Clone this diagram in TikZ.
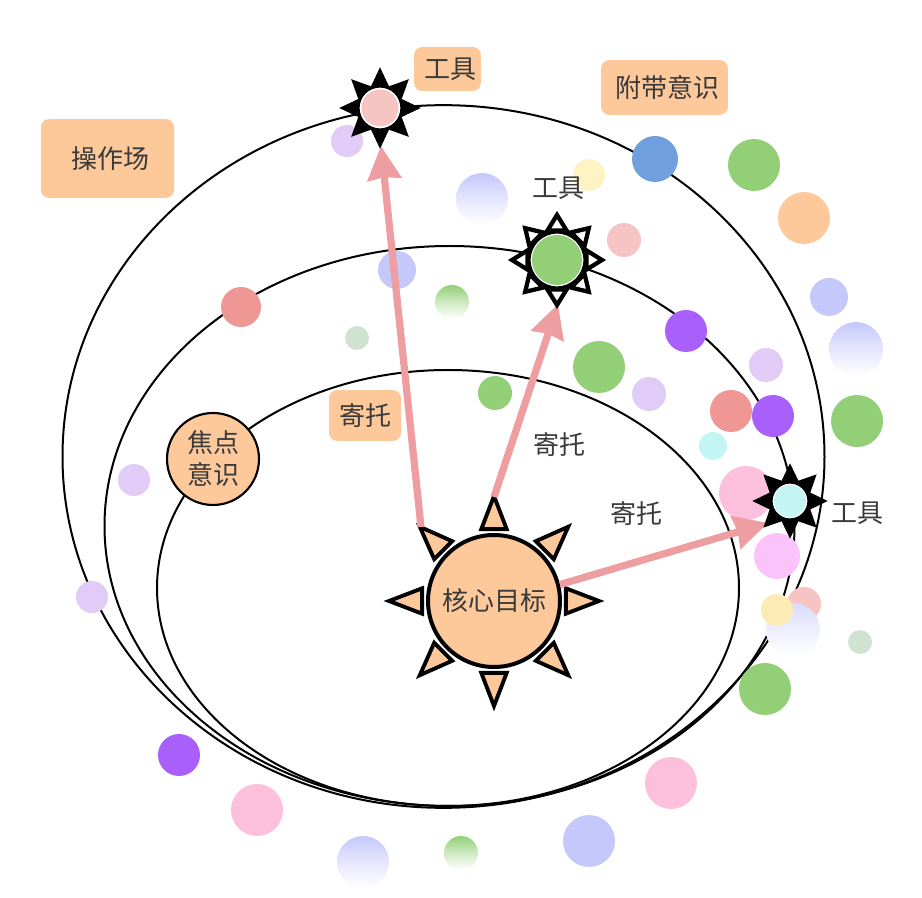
\documentclass[tikz,border=0pt]{standalone}
\usepackage{fontspec}
\setmainfont{Noto Sans CJK SC}
\usepackage{xcolor}
\usetikzlibrary{arrows.meta, shapes.geometric}
\definecolor{peach}{HTML}{FDC99B}
\definecolor{ink}{HTML}{3A3A3A}
\definecolor{rose}{HTML}{EE9DA0}
\definecolor{sky}{HTML}{6F9FDC}
\definecolor{leaf}{HTML}{93CF77}
\definecolor{mist}{HTML}{C5C8FB}
\definecolor{softmist}{HTML}{D9DBFC}
\definecolor{violet}{HTML}{A960FB}
\definecolor{lilac}{HTML}{E0CCF7}
\definecolor{salmon}{HTML}{EE9795}
\definecolor{aqua}{HTML}{C3F5F5}
\definecolor{blush}{HTML}{FDC0DC}
\definecolor{orchid}{HTML}{FBC3FB}
\definecolor{palered}{HTML}{F7C4C4}
\definecolor{cream}{HTML}{FDEBB5}
\definecolor{lemon}{HTML}{FDF3C3}
\definecolor{sage}{HTML}{CFE3D0}

\begin{document}
\begin{tikzpicture}[
        x=0.75pt, y=-0.75pt,
        orbit/.style={ellipse, draw=black, line width=1.5pt, inner sep=0pt},
        dot/.style={circle, inner sep=0pt, draw=none},
        tag/.style={rectangle, fill=peach, rounded corners=6pt, text=ink, font=\fontsize{19.5}{24}\selectfont, align=center, inner sep=0pt},
        plain/.style={text=ink, font=\fontsize{19.5}{24}\selectfont, inner sep=0pt},
        coreray/.style={draw=black, fill=peach, line width=2.9pt, miter limit=20},
        toolray/.style={draw=black, miter limit=20},
        halo/.style={circle, draw=black, fill=white, inner sep=0pt},
        link/.style={-{Stealth[length=25pt, width=25pt, inset=1.5pt]}, line width=5.4pt, draw=rose}
    ]
    \useasboundingbox (0,0) rectangle (922,898);

    % orbits
    \node[orbit, minimum width=571.5pt, minimum height=527pt] (orbitOuter) at (443.5,456.5) {};
    \node[orbit, minimum width=517.5pt, minimum height=420pt] (orbitMiddle) at (449.5,526) {};
    \node[orbit, minimum width=436.5pt, minimum height=327pt] (orbitInner) at (448,588) {};

    % dots
    \foreach \name/\px/\py/\dd/\col in {
        a/655/159/46/sky, b/754/165/52/leaf, c/804/218/52/peach, d/829/297/38/mist,
        f/857/421/52/leaf, g/686/331/42/violet, h/766/365/34/lilac, j/731/411/42/salmon,
        k/773/416/42/violet, l/713/446/28/aqua, m/746/493/54/blush, n/777/556/46/orchid,
        o/804/604/34/palered, q/860/642/24/sage, r/765/689/52/leaf, s/671/783/52/blush,
        t/589/841/52/mist, u/257/810/52/blush, v/179/755/42/violet, w/92/597/32/lilac,
        x/134/480/32/lilac, y/241/307/40/salmon, z/347/141/32/lilac, aa/589/175/32/lemon,
        ab/624/240/34/palered, ac/397/270/38/mist, ad/357/338/24/sage, ae/495/393/34/leaf,
        af/599/367/52/leaf, ag/649/394/34/lilac}
        \node[dot, fill=\col, minimum size=\dd*0.75pt] (dot\name) at (\px,\py) {};

    % fading dots
    \foreach \name/\px/\py/\dd/\col in {
        e/856/349/54/mist, p/793/630/54/softmist, ah/461/853/34/leaf, ai/363/862/52/mist,
        aj/482/199/52/mist, ak/452/302/34/leaf}
        \node[dot, top color=\col, bottom color=white, middle color=\col!45, minimum size=\dd*0.75pt] (dot\name) at (\px,\py) {};
    \node[dot, fill=cream, minimum size=24pt] (dotcream) at (777,610) {};

    % focus
    \node[circle, draw=black, fill=peach, line width=1.6pt, minimum size=69pt, inner sep=0pt, text=ink, align=center, font=\fontsize{19.5}{24}\selectfont] (focus) at (213,459) {焦点\\意识};

    % arrows
    \coordinate (tipA) at (421,527);
    \coordinate (tipB) at (494,497);
    \coordinate (headA) at (381,146);
    \coordinate (headB) at (558,304);
    \coordinate (headC) at (768,523);

    % core
    \node[circle, draw=black, fill=peach, line width=3pt, minimum size=99pt, inner sep=0pt, text=ink, font=\fontsize{19.5}{24}\selectfont] (core) at (494,601) {核心目标};
    \foreach \a in {0,45,...,315}
        \draw[coreray, shift={(494,601)}] (\a+10:73) -- (\a-10:73) -- (\a:105) -- cycle;

    \draw[link] (tipA) -- (headA);
    \draw[link] (tipB) -- (headB);
    \draw[link] (core.14) -- (headC);

    % tools
    \foreach \name/\px/\py/\inn/\out/\ring/\base/\apex/\spread/\raycol/\col in {
        toolA/380/108/37/44/2.4/23/37/18/black/palered,
        toolB/557/260/50/57/3.2/31/45/18/white/leaf,
        toolC/790/501/32/38/2.4/21/34/19/black/aqua}{
        \foreach \a in {0,45,...,315}
            \draw[toolray, line width=\ring pt, fill=\raycol, shift={(\px,\py)}] (\a+\spread:\base) -- (\a-\spread:\base) -- (\a:\apex) -- cycle;
        \node[halo, line width=\ring pt, minimum size=\out*0.75pt] (\name) at (\px,\py) {};
        \node[dot, fill=\col, minimum size=\inn*0.75pt] (\name fill) at (\px,\py) {};
    }

    % labels
    \node[tag, minimum width=100pt, minimum height=59pt] (tagField) at (107.5,158.5) {\hspace*{5pt}操作场};
    \node[tag, minimum width=50pt, minimum height=33pt] (tagToolA) at (447.5,69) {\hspace*{5pt}工具};
    \node[tag, minimum width=95pt, minimum height=41pt] (tagSide) at (664.5,87.5) {\hspace*{5pt}附带意识};
    \node[tag, minimum width=54pt, minimum height=38pt] (tagRelyA) at (365,415.5) {寄托};
    \node[plain] (labelToolB) at (558,188) {工具};
    \node[plain] (labelToolC) at (857,513) {工具};
    \node[plain] (labelRelyB) at (559,445) {寄托};
    \node[plain] (labelRelyC) at (636,514) {寄托};
\end{tikzpicture}
\end{document}
